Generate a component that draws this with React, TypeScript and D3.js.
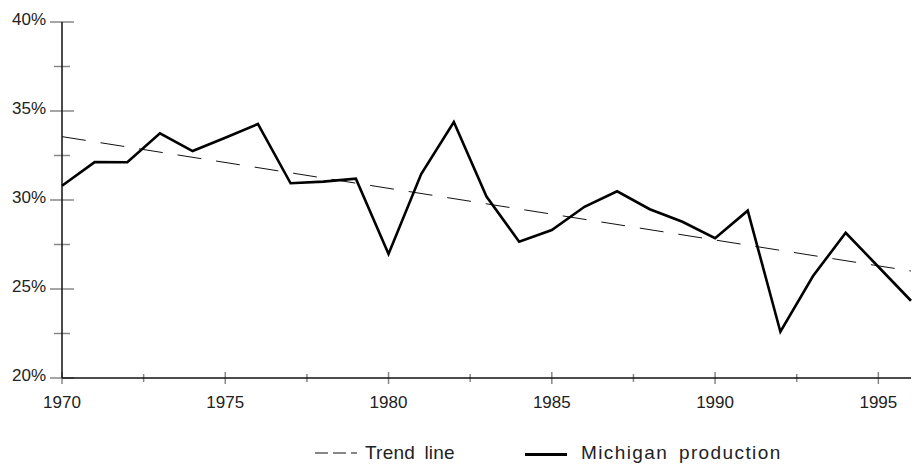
import React from "react";
import * as d3 from "d3";

const years = [1970,1971,1972,1973,1974,1975,1976,1977,1978,1979,1980,1981,1982,1983,1984,1985,1986,1987,1988,1989,1990,1991,1992,1993,1994,1995,1996];
const production = [30.8,32.13,32.12,33.75,32.75,33.5,34.27,30.94,31.03,31.2,26.97,31.46,34.38,30.19,27.66,28.31,29.62,30.49,29.48,28.78,27.85,29.4,22.6,25.73,28.16,26.25,24.34];
const trendYears = [1970, 1996];
const trendValues = [33.56, 26.01];
const yMajorTicks = [20, 25, 30, 35, 40];
const yMinorTicks = [22.5, 27.5, 32.5, 37.5];
const xMajorTicks = [1970, 1975, 1980, 1985, 1990, 1995];
const xMinorTicks = [1972.5, 1977.5, 1982.5, 1987.5, 1992.5];
const legendLabels = ["Trend line", "Michigan production"];

export default function App() {
  const W = 916, H = 468;
  const x = d3.scaleLinear().domain([1970, 1996]).range([62, 911]);
  const y = d3.scaleLinear().domain([20, 40]).range([378, 22]);
  const line = d3.line<[number, number]>().x(d => x(d[0])).y(d => y(d[1]));
  const prodData: [number, number][] = years.map((yr, i) => [yr, production[i]]);
  const trendData: [number, number][] = trendYears.map((yr, i) => [yr, trendValues[i]]);
  const font = "'Liberation Sans', Arial, sans-serif";
  const tickColor = "#888";
  const textColor = "#222";
  return (
    <svg width={W} height={H} style={{ position: "absolute", left: 0, top: 0, background: "#fff" }} fontFamily={font}>
      {yMajorTicks.map(t => (
        <g key={"ym" + t}>
          <line x1={x(1970) - 12} x2={x(1970) + 12} y1={y(t)} y2={y(t)} stroke={tickColor} strokeWidth={1.5} />
          <text x={x(1970) - 16} y={y(t) + 2.5} textAnchor="end" fontSize={17} fill={textColor}>{t}%</text>
        </g>
      ))}
      {yMinorTicks.map(t => (
        <line key={"yn" + t} x1={x(1970) - 8} x2={x(1970) + 8} y1={y(t)} y2={y(t)} stroke={tickColor} strokeWidth={1.5} />
      ))}
      {xMajorTicks.map(t => (
        <g key={"xm" + t}>
          <line x1={x(t)} x2={x(t)} y1={y(20) - 6} y2={y(20) + 6} stroke={tickColor} strokeWidth={1.5} />
          <text x={x(t)} y={408} textAnchor="middle" fontSize={17} fill={textColor}>{t}</text>
        </g>
      ))}
      {xMinorTicks.map(t => (
        <line key={"xn" + t} x1={x(t)} x2={x(t)} y1={y(20) - 4} y2={y(20) + 4} stroke={tickColor} strokeWidth={1.5} />
      ))}
      <line x1={x(1970)} x2={x(1970)} y1={y(40)} y2={y(20)} stroke="#111" strokeWidth={1.5} />
      <line x1={x(1970)} x2={x(1996)} y1={y(20)} y2={y(20)} stroke="#111" strokeWidth={1.5} />
      <path d={line(trendData) || ""} fill="none" stroke="#111" strokeWidth={1} strokeDasharray="24,15" />
      <path d={line(prodData) || ""} fill="none" stroke="#000" strokeWidth={2.6} strokeLinejoin="miter" />
      <line x1={315} x2={357} y1={453} y2={453} stroke="#111" strokeWidth={1.2} strokeDasharray="13,5" />
      <text x={365} y={459} fontSize={19} fill={textColor} wordSpacing={4} letterSpacing={0.2}>{legendLabels[0]}</text>
      <line x1={525} x2={567} y1={454.5} y2={454.5} stroke="#000" strokeWidth={2.8} />
      <text x={581} y={459} fontSize={19} fill={textColor} wordSpacing={4} letterSpacing={1.4}>{legendLabels[1]}</text>
    </svg>
  );
}
